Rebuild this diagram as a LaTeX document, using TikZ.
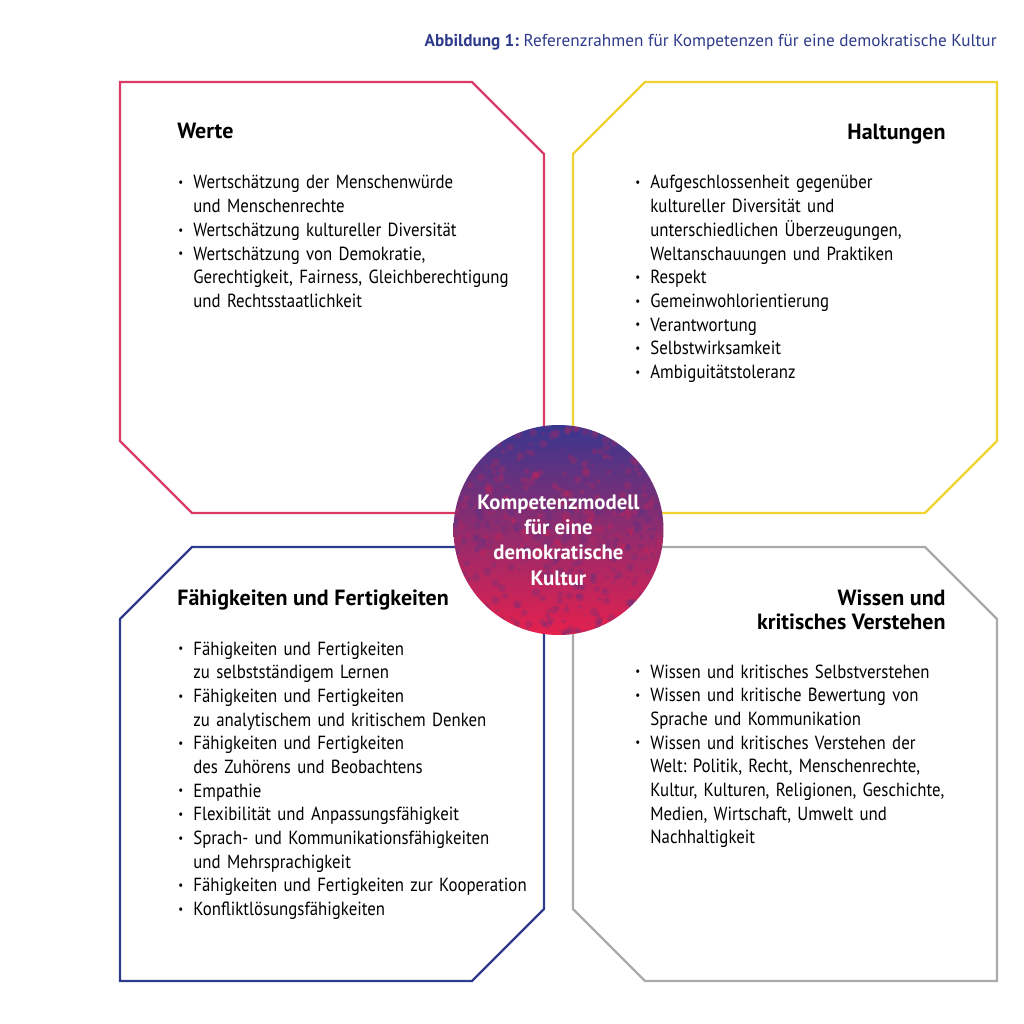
\documentclass[tikz,border=0pt]{standalone}
\usepackage{fontspec}
\setmainfont{PT Sans}
\newfontfamily\schmal[FakeStretch=0.885]{PT Sans}
\usetikzlibrary{positioning}
\frenchspacing
\definecolor{werte}  {HTML}{D93A66}
\definecolor{haltung}{HTML}{F0D230}
\definecolor{faehig} {HTML}{2F3C8C}
\definecolor{wissen} {HTML}{AAAAAA}
\definecolor{titel}  {HTML}{2E3B8A}
\definecolor{kblau}  {HTML}{3A378F}
\definecolor{krot}   {HTML}{E6204D}
\definecolor{kmitte} {HTML}{A32A6E}

\newcommand{\pkt}{\makebox[7.5pt][l]{\raisebox{0.25ex}{\scalebox{0.65}{•}}}}
\newcommand{\listenpunkt}[1]{\hangindent=7.5pt\hangafter=1\noindent\strut\pkt#1\par}

\tikzset{
  rahmen/.style={line width=1.1pt, line join=miter},
  kopf/.style={font=\fontsize{11}{12}\selectfont\bfseries, inner sep=0pt},
  punkte/.style={font=\schmal\fontsize{9.5}{11.85}\selectfont, inner sep=0pt,
    text width=200pt, anchor=north west},
}

\begin{document}
\begin{tikzpicture}[x=0.5pt, y=-0.5pt]
  \useasboundingbox[fill=white] (0,0) rectangle (1024,1024);

  \node[anchor=base east, inner sep=0pt, text=titel,
    font=\fontsize{8.6}{10}\selectfont] (titel) at (997,46)
    {\textbf{Abbildung 1:} Referenzrahmen für Kompetenzen für eine demokratische Kultur};

  % vier Felder
  \draw[rahmen, werte]   (120,82) -- (472,82) -- (544,154) -- (544,513) -- (192,513) -- (120,441) -- cycle;
  \draw[rahmen, haltung] (645,82) -- (997,82) -- (997,441) -- (925,513) -- (573,513) -- (573,154) -- cycle;
  \draw[rahmen, faehig]  (192,547) -- (544,547) -- (544,909) -- (472,981) -- (120,981) -- (120,619) -- cycle;
  \draw[rahmen, wissen]  (573,547) -- (925,547) -- (997,619) -- (997,981) -- (645,981) -- (573,909) -- cycle;

  \node[kopf, anchor=base west] (werte-kopf) at (177,138) {Werte};
  \node[punkte] (werte-liste) at (178,172) {%
    \listenpunkt{Wertschätzung der Menschenwürde\newline und Menschenrechte}
    \listenpunkt{Wertschätzung kultureller Diversität}
    \listenpunkt{Wertschätzung von Demokratie,\newline Gerechtigkeit, Fairness, Gleichberechtigung\newline und Rechtsstaatlichkeit}};

  \node[kopf, anchor=base east] (haltung-kopf) at (946,139) {Haltungen};
  \node[punkte] (haltung-liste) at (635,172) {%
    \listenpunkt{Aufgeschlossenheit gegenüber\newline kultureller Diversität und\newline unterschiedlichen Überzeugungen,\newline Weltanschauungen und Praktiken}
    \listenpunkt{Respekt}
    \listenpunkt{Gemeinwohlorientierung}
    \listenpunkt{Verantwortung}
    \listenpunkt{Selbstwirksamkeit}
    \listenpunkt{Ambiguitätstoleranz}};

  \node[kopf, anchor=base west] (faehig-kopf) at (177,605) {Fähigkeiten und Fertigkeiten};
  \node[punkte] (faehig-liste) at (178,638) {%
    \listenpunkt{Fähigkeiten und Fertigkeiten\newline zu selbstständigem Lernen}
    \listenpunkt{Fähigkeiten und Fertigkeiten\newline zu analytischem und kritischem Denken}
    \listenpunkt{Fähigkeiten und Fertigkeiten\newline des Zuhörens und Beobachtens}
    \listenpunkt{Empathie}
    \listenpunkt{Flexibilität und Anpassungsfähigkeit}
    \listenpunkt{Sprach- und Kommunikationsfähigkeiten\newline und Mehrsprachigkeit}
    \listenpunkt{Fähigkeiten und Fertigkeiten zur Kooperation}
    \listenpunkt{Konfliktlösungsfähigkeiten}};

  \node[kopf, anchor=north east, align=right] (wissen-kopf) at (946,589)
    {Wissen und\\kritisches Verstehen};
  \node[punkte] (wissen-liste) at (635,661) {%
    \listenpunkt{Wissen und kritisches Selbstverstehen}
    \listenpunkt{Wissen und kritische Bewertung von\newline Sprache und Kommunikation}
    \listenpunkt{Wissen und kritisches Verstehen der\newline Welt: Politik, Recht, Menschenrechte,\newline Kultur, Kulturen, Religionen, Geschichte,\newline Medien, Wirtschaft, Umwelt und\newline Nachhaltigkeit}};

  % Kreis in der Mitte, fleckig
  \shade[top color=kblau, middle color=kmitte, bottom color=krot] (558.5,530) circle (105);
  \begin{scope}
    \clip (558.5,530) circle (105);
    \pgfmathsetseed{17}
    \foreach \i in {1,...,260}{
      \pgfmathsetmacro{\px}{453+210*rnd}
      \pgfmathsetmacro{\py}{425+130*rnd}
      \pgfmathsetmacro{\pr}{1+3.5*rnd}
      \fill[krot, opacity=0.2] (\px,\py) circle (\pr);
    }
    \foreach \i in {1,...,260}{
      \pgfmathsetmacro{\px}{453+210*rnd}
      \pgfmathsetmacro{\py}{505+130*rnd}
      \pgfmathsetmacro{\pr}{1+3.5*rnd}
      \fill[kblau, opacity=0.2] (\px,\py) circle (\pr);
    }
  \end{scope}
  \node[font=\fontsize{10.4}{12.7}\selectfont\bfseries, text=white, align=center,
    inner sep=0pt] (modell) at (558.5,540)
    {Kompetenzmodell\\für eine\\demokratische\\Kultur};
\end{tikzpicture}
\end{document}
